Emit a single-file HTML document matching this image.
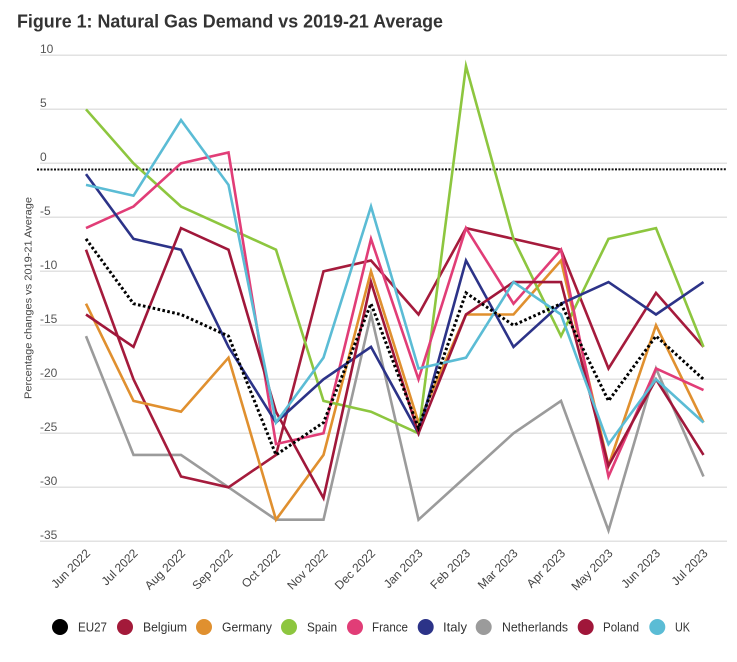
<!DOCTYPE html>
<html>
<head>
<meta charset="utf-8">
<style>
  html, body { margin: 0; padding: 0; background: #ffffff; }
  body { width: 737px; height: 662px; overflow: hidden; }
  svg { display: block; font-family: "Liberation Sans", "DejaVu Sans", sans-serif; }
</style>
</head>
<body>
<svg width="737" height="662" viewBox="0 0 737 662" xmlns="http://www.w3.org/2000/svg">
  <rect width="737" height="662" fill="#ffffff"/>

  <!-- Title -->
  <text x="17" y="27.5" font-size="18" font-weight="bold" fill="#333333" textLength="426" lengthAdjust="spacingAndGlyphs">Figure 1: Natural Gas Demand vs 2019-21 Average</text>

  <!-- Gridlines -->
  <g stroke="#e2e2e2" stroke-width="1.5">
    <line x1="40" y1="55.3" x2="727" y2="55.3"/>
    <line x1="40" y1="109.3" x2="727" y2="109.3"/>
    <line x1="40" y1="163.3" x2="727" y2="163.3"/>
    <line x1="40" y1="217.3" x2="727" y2="217.3"/>
    <line x1="40" y1="271.3" x2="727" y2="271.3"/>
    <line x1="40" y1="325.3" x2="727" y2="325.3"/>
    <line x1="40" y1="379.3" x2="727" y2="379.3"/>
    <line x1="40" y1="433.3" x2="727" y2="433.3"/>
    <line x1="40" y1="487.3" x2="727" y2="487.3"/>
    <line x1="40" y1="541.3" x2="727" y2="541.3"/>
  </g>

  <!-- Y tick labels -->
  <g font-size="12" fill="#555555">
    <text x="40" y="53">10</text>
    <text x="40" y="107">5</text>
    <text x="40" y="161">0</text>
    <text x="40" y="215">-5</text>
    <text x="40" y="269">-10</text>
    <text x="40" y="323">-15</text>
    <text x="40" y="377">-20</text>
    <text x="40" y="431">-25</text>
    <text x="40" y="485">-30</text>
    <text x="40" y="539">-35</text>
  </g>

  <!-- Y axis title -->
  <text transform="translate(31.5,298) rotate(-90)" text-anchor="middle" font-size="10.5" fill="#444444" textLength="202" lengthAdjust="spacingAndGlyphs">Percentage changes vs 2019-21 Average</text>

  <!-- Reference dotted line near zero -->
  <line x1="37" y1="169.5" x2="727" y2="169.3" stroke="#111111" stroke-width="2" stroke-dasharray="2 1.4"/>

  <!-- Series -->
  <g fill="none" stroke-width="2.6" stroke-linejoin="miter" stroke-miterlimit="10">
    <!-- Netherlands -->
    <polyline stroke="#9b9b9b" points="86,336.1 133.5,454.9 181,454.9 228.5,487.3 276,519.7 323.5,519.7 371,314.5 418.5,519.7 466,476.5 513.5,433.3 561,400.9 608.5,530.5 656,368.5 703.5,476.5"/>
    <!-- Belgium -->
    <polyline stroke="#a51b3c" points="86,249.7 133.5,379.3 181,476.5 228.5,487.3 276,454.9 323.5,271.3 371,260.5 418.5,314.5 466,228.1 513.5,238.9 561,249.7 608.5,368.5 656,292.9 703.5,346.9"/>
    <!-- Germany -->
    <polyline stroke="#e0902f" points="86,303.7 133.5,400.9 181,411.7 228.5,357.7 276,519.7 323.5,454.9 371,271.3 418.5,422.5 466,314.5 513.5,314.5 561,260.5 608.5,465.7 656,325.3 703.5,422.5"/>
    <!-- Spain -->
    <polyline stroke="#8dc63f" points="86,109.3 133.5,163.3 181,206.5 228.5,228.1 276,249.7 323.5,400.9 371,411.7 418.5,433.3 466,66.1 513.5,238.9 561,336.1 608.5,238.9 656,228.1 703.5,346.9"/>
    <!-- France -->
    <polyline stroke="#e13d77" points="86,228.1 133.5,206.5 181,163.3 228.5,152.5 276,444.1 323.5,433.3 371,238.9 418.5,379.3 466,228.1 513.5,303.7 561,249.7 608.5,476.5 656,368.5 703.5,390.1"/>
    <!-- Italy -->
    <polyline stroke="#2c3388" points="86,174.1 133.5,238.9 181,249.7 228.5,346.9 276,422.5 323.5,379.3 371,346.9 418.5,433.3 466,260.5 513.5,346.9 561,303.7 608.5,282.1 656,314.5 703.5,282.1"/>
    <!-- Poland -->
    <polyline stroke="#a0173a" points="86,314.5 133.5,346.9 181,228.1 228.5,249.7 276,411.7 323.5,498.1 371,282.1 418.5,433.3 466,314.5 513.5,282.1 561,282.1 608.5,465.7 656,379.3 703.5,454.9"/>
    <!-- UK -->
    <polyline stroke="#5bbcd5" points="86,184.9 133.5,195.7 181,120.1 228.5,184.9 276,422.5 323.5,357.7 371,206.5 418.5,368.5 466,357.7 513.5,282.1 561,314.5 608.5,444.1 656,379.3 703.5,422.5"/>
    <!-- EU27 dotted -->
    <polyline stroke="#000000" stroke-width="3" stroke-dasharray="2.6 2.4" points="86,238.9 133.5,303.7 181,314.5 228.5,336.1 276,454.9 323.5,422.5 371,303.7 418.5,427.9 466,292.9 513.5,325.3 561,303.7 608.5,400.9 656,336.1 703.5,379.3"/>
  </g>

  <!-- X axis labels -->
  <g font-size="12" fill="#444444" text-anchor="end">
    <text transform="translate(91,554) rotate(-45)">Jun 2022</text>
    <text transform="translate(138.5,554) rotate(-45)">Jul 2022</text>
    <text transform="translate(186,554) rotate(-45)">Aug 2022</text>
    <text transform="translate(233.5,554) rotate(-45)">Sep 2022</text>
    <text transform="translate(281,554) rotate(-45)">Oct 2022</text>
    <text transform="translate(328.5,554) rotate(-45)">Nov 2022</text>
    <text transform="translate(376,554) rotate(-45)">Dec 2022</text>
    <text transform="translate(423.5,554) rotate(-45)">Jan 2023</text>
    <text transform="translate(471,554) rotate(-45)">Feb 2023</text>
    <text transform="translate(518.5,554) rotate(-45)">Mar 2023</text>
    <text transform="translate(566,554) rotate(-45)">Apr 2023</text>
    <text transform="translate(613.5,554) rotate(-45)">May 2023</text>
    <text transform="translate(661,554) rotate(-45)">Jun 2023</text>
    <text transform="translate(708.5,554) rotate(-45)">Jul 2023</text>
  </g>

  <!-- Legend -->
  <g>
    <circle cx="60" cy="627" r="8" fill="#000000"/>
    <circle cx="125" cy="627" r="8" fill="#a31a3a"/>
    <circle cx="204" cy="627" r="8" fill="#e0902f"/>
    <circle cx="289" cy="627" r="8" fill="#8dc63f"/>
    <circle cx="355" cy="627" r="8" fill="#e13d77"/>
    <circle cx="425.7" cy="627" r="8" fill="#2c3388"/>
    <circle cx="483.7" cy="627" r="8" fill="#9b9b9b"/>
    <circle cx="585.7" cy="627" r="8" fill="#a0163a"/>
    <circle cx="657.3" cy="627" r="8" fill="#5bbcd5"/>
  </g>
  <g font-size="13" fill="#333333">
    <text x="78" y="631.5" textLength="29" lengthAdjust="spacingAndGlyphs">EU27</text>
    <text x="143" y="631.5" textLength="44" lengthAdjust="spacingAndGlyphs">Belgium</text>
    <text x="222" y="631.5" textLength="50" lengthAdjust="spacingAndGlyphs">Germany</text>
    <text x="307" y="631.5" textLength="30" lengthAdjust="spacingAndGlyphs">Spain</text>
    <text x="372" y="631.5" textLength="36" lengthAdjust="spacingAndGlyphs">France</text>
    <text x="443" y="631.5" textLength="24" lengthAdjust="spacingAndGlyphs">Italy</text>
    <text x="502" y="631.5" textLength="66" lengthAdjust="spacingAndGlyphs">Netherlands</text>
    <text x="603" y="631.5" textLength="36" lengthAdjust="spacingAndGlyphs">Poland</text>
    <text x="675" y="631.5" textLength="15" lengthAdjust="spacingAndGlyphs">UK</text>
  </g>
</svg>
</body>
</html>
